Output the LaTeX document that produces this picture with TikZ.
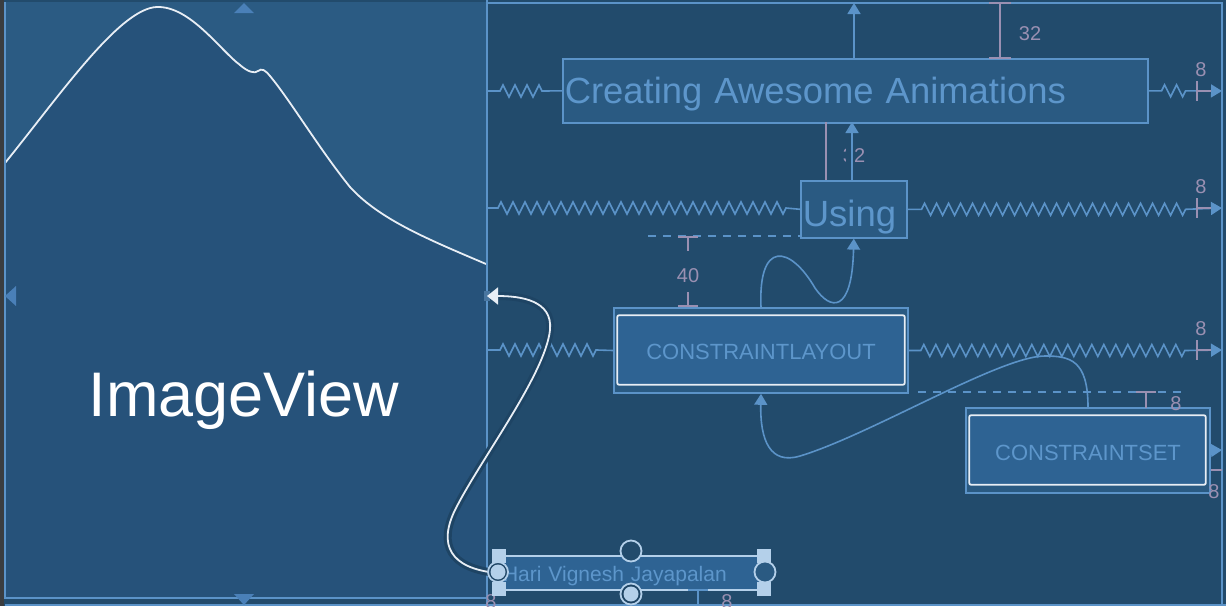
\documentclass[tikz,border=0pt]{standalone}
\usepackage{fontspec}
\setmainfont{Liberation Sans}
\usetikzlibrary{decorations.pathmorphing,arrows.meta}
\definecolor{bgR}{HTML}{224B6C}
\definecolor{strip}{HTML}{3A3D40}
\definecolor{panLo}{HTML}{26527A}
\definecolor{panHi}{HTML}{2B5B83}
\definecolor{boxF}{HTML}{2A5A82}
\definecolor{boxIn}{HTML}{2E6393}
\definecolor{lineB}{HTML}{5B93C8}
\definecolor{txtB}{HTML}{5D96CB}
\definecolor{purp}{HTML}{9A90B2}
\definecolor{wht}{HTML}{E8EEF5}
\definecolor{handle}{HTML}{B4D0EA}
\definecolor{halo}{HTML}{1E4464}
\definecolor{marker}{HTML}{4A80B8}
\begin{document}
\begin{tikzpicture}[x=1pt,y=-1pt,
  bl/.style={draw=lineB, line width=1.6pt},
  zz/.style={decoration={zigzag,segment length=12pt,amplitude=6pt}},
  dimln/.style={draw=purp, line width=1.6pt},
  dimtxt/.style={text=purp, font=\fontsize{20}{20}\selectfont, inner sep=0pt},
  tipB/.style={-{Triangle[width=13pt,length=11pt]}},
  boxA/.style={draw=lineB, line width=1.6pt, fill=boxF, text=txtB, inner ysep=0pt},
  boxC/.style={draw=lineB, line width=1.6pt, fill=boxF, text=txtB, inner sep=0pt,
     font=\fontsize{22}{22}\selectfont},
  innerbox/.style={draw=wht, line width=1.8pt, fill=boxIn, rounded corners=2pt},
  dashln/.style={draw=lineB, line width=1.6pt, dash pattern=on 8pt off 7pt}
]
\useasboundingbox (0,0) rectangle (1226,606);
% backgrounds
\fill[bgR] (0,0) rectangle (1226,606);
\fill[strip] (0,0) rectangle (4,606);
% left panel (ImageView)
\fill[panLo] (5,2) rectangle (487,598);
\fill[panHi] (5,2) -- (5,163) .. controls (60,95) and (120,8) .. (157,7)
  .. controls (190,6) and (220,50) .. (240,65)
  .. controls (248,72) and (255,74) .. (258,71)
  .. controls (262,68) and (265,70) .. (270,76)
  .. controls (290,100) and (320,150) .. (350,187)
  .. controls (380,220) and (430,240) .. (487,264) -- (487,2) -- cycle;
\draw[wht, line width=1.8pt] (5,163) .. controls (60,95) and (120,8) .. (157,7)
  .. controls (190,6) and (220,50) .. (240,65)
  .. controls (248,72) and (255,74) .. (258,71)
  .. controls (262,68) and (265,70) .. (270,76)
  .. controls (290,100) and (320,150) .. (350,187)
  .. controls (380,220) and (430,240) .. (486,264);
\draw[bl] (5,2) -- (5,598) -- (487,598);
\draw[bl] (5,605) -- (1226,605);
\draw[bl] (487,0) -- (487,606);
\draw[bl] (487,3) -- (1222,3) -- (1222,606);
\fill[marker] (234,13) -- (254,13) -- (244,3) -- cycle;
\fill[marker] (16,286) -- (16,306) -- (5,296) -- cycle;
\fill[marker] (234,594) -- (254,594) -- (244,605) -- cycle;
\node[text=white, font=\fontsize{63}{63}\selectfont, inner sep=0pt, anchor=base] (img) at (244,416) {ImageView};

% coordinates on the panel edges
\coordinate (eL1) at (487,91);
\coordinate (eL2) at (487,208);
\coordinate (eL3) at (487,350);
\coordinate (eR1) at (1222,91);
\coordinate (eR2) at (1222,208);
\coordinate (eR3) at (1222,350);
\coordinate (eR4) at (1222,450);
\coordinate (topE) at (854,3);
\coordinate (imgR) at (487,296);

% boxes
\node[boxA, anchor=north west, text width=581pt, inner xsep=2pt, align=left, minimum height=64pt,
  font=\fontsize{36.4}{36.4}\selectfont, text height=26pt, text depth=0pt] (crt) at (562,58) {Creating Awesome Animations};
\node[boxA, anchor=north west, text width=102pt, inner xsep=2pt, align=left, minimum height=57pt,
  font=\fontsize{36.5}{36.5}\selectfont, text height=34pt, text depth=0pt] (us) at (800,180) {Using};
\node[boxC, minimum width=294pt, minimum height=85pt] (cl) at (761,350.5) {};
\draw[innerbox] ([shift={(4,8)}]cl.north west) rectangle ([shift={(-4,-9)}]cl.south east);
\node[text=txtB, font=\fontsize{22}{22}\selectfont, inner sep=0pt, text height=17.8pt, text depth=0pt] (cltxt) at (cl.center) {CONSTRAINTLAYOUT};
\node[boxC, minimum width=244pt, minimum height=85pt] (cs) at (1088,450.5) {};
\draw[innerbox] ([shift={(4,8)}]cs.north west) rectangle ([shift={(-5,-9)}]cs.south east);
\node[text=txtB, font=\fontsize{22}{22}\selectfont, inner sep=0pt, text height=19.8pt, text depth=0pt] (cstxt) at (cs.center) {CONSTRAINTSET};

% springs left
\draw[bl] (eL1) -- ++(13,0) decorate[zz]{-- ++(45,0)} -- (crt.west);
\draw[bl] (eL2) -- ++(11,0) decorate[zz]{-- ++(288,0)} -- (us.west);
\draw[bl] (eL3) -- ++(13,0) decorate[zz]{-- ++(97,0)} -- (cl.west);
% springs right
\draw[bl, tipB] (crt.east) -- ++(13,0) decorate[zz]{-- ++(25,0)} -- (eR1);
\draw[bl, tipB] (us.east) -- ++(14,0) decorate[zz]{-- ++(264,0)} -- (eR2);
\draw[bl, tipB] (cl.east) -- ++(12,0) decorate[zz]{-- ++(264,0)} -- (eR3);
\draw[bl, tipB] (cs.east) -- (eR4);
\foreach \yy in {91,208,350}{
  \draw[dimln] (1197,\yy-10) -- (1197,\yy+10);
  \draw[dimln] (1197,\yy) -- (1211,\yy);
  \node[dimtxt] at (1201,\yy-21) {8};
}
\draw[dimln] (cs.east |- 0,470) -- (1222,470);
\node[dimtxt] (d8cs2) at (1214,492) {8};

% top arrow
\draw[bl, tipB] (crt.north -| topE) -- (topE);
% dimension 32 (top)
\draw[dimln] (989,3) -- (1011,3) (1000,3) -- (1000,58) (989,58) -- (1011,58);
\node[dimtxt] (d32a) at (1030,34) {32};
% dimension 32 between boxes (partly hidden behind the arrow)
\draw[dimln] (826,122) -- (826,180);
\node[dimtxt] (d32b) at (854,156) {32};
\fill[bgR] (846,142) rectangle (853,170);
\draw[bl, tipB] (852,180) -- (852,122);

% dashed guides
\draw[dashln] (648,236) -- (800,236);
\draw[dashln] (918,392) -- (1187,392);

% dimension 40
\draw[dimln] (678,237) -- (698,237) (688,237) -- (688,251);
\draw[dimln] (688,292) -- (688,306) (678,306) -- (698,306);
\node[dimtxt] (d40) at (688,276) {40};
% dimension 8 above ConstraintSet
\draw[dimln] (1136,392) -- (1156,392) (1146,392) -- (1146,408);
\node[dimtxt] (d8cs) at (1176,404) {8};

% curved connectors
\draw[bl, tipB] (cl.north) .. controls (758,240) and (790,245) .. (815,288)
  .. controls (830,310) and (852,315) .. (us.south);
\draw[bl, tipB] (cs.north) .. controls (1088,360) and (1070,356) .. (1045,356)
  .. controls (1000,356) and (870,435) .. (800,456)
  .. controls (770,465) and (760,440) .. (cl.south);

% Hari node
\node[draw=handle, line width=1.5pt, fill=boxIn, text=txtB, minimum height=34pt,
  text width=256pt, inner xsep=6pt, align=left, font=\fontsize{21}{21}\selectfont,
  text height=17pt, text depth=0pt] (hari) at (631,573) {Hari Vignesh Jayapalan};
% bottom dimension
\draw[bl] (688,590) -- (708,590) (698,590) -- (698,606);
\node[text=purp, font=\fontsize{20}{20}\selectfont, inner sep=0pt] (d8b) at (727,602) {8};
\node[text=purp, font=\fontsize{20}{20}\selectfont, inner sep=0pt] (d8c) at (491,602) {8};

% white connector with halo
\fill[lineB!80!black] (484,291) rectangle (490,301);
\draw[halo, line width=8pt] (hari.west) .. controls (450,568) and (438,545) .. (455,510)
  .. controls (480,460) and (545,375) .. (550,330)
  .. controls (553,300) and (520,296) .. (497,296);
\draw[wht, line width=1.8pt, -{Triangle[width=17pt,length=11pt]}] (hari.west) .. controls (450,568) and (438,545) .. (455,510)
  .. controls (480,460) and (545,375) .. (550,330)
  .. controls (553,300) and (520,296) .. (imgR);

% handles
\foreach \px/\py in {499/556, 764/556, 499/589, 764/589}{
  \fill[handle] (\px-7,\py-7) rectangle (\px+7,\py+7);
}
\draw[handle, line width=1.8pt, fill=bgR] (631,551) circle (10.5pt);
\draw[handle, line width=1.8pt, fill=boxF] (765,572) circle (10.5pt);
\draw[handle, line width=1.8pt, fill=halo] (498,572) circle (10pt);
\fill[handle] (498,572) circle (7.5pt);
\draw[handle, line width=1.8pt, fill=halo] (631,594) circle (10.5pt);
\fill[handle] (631,594) circle (7.5pt);
\end{tikzpicture}
\end{document}
